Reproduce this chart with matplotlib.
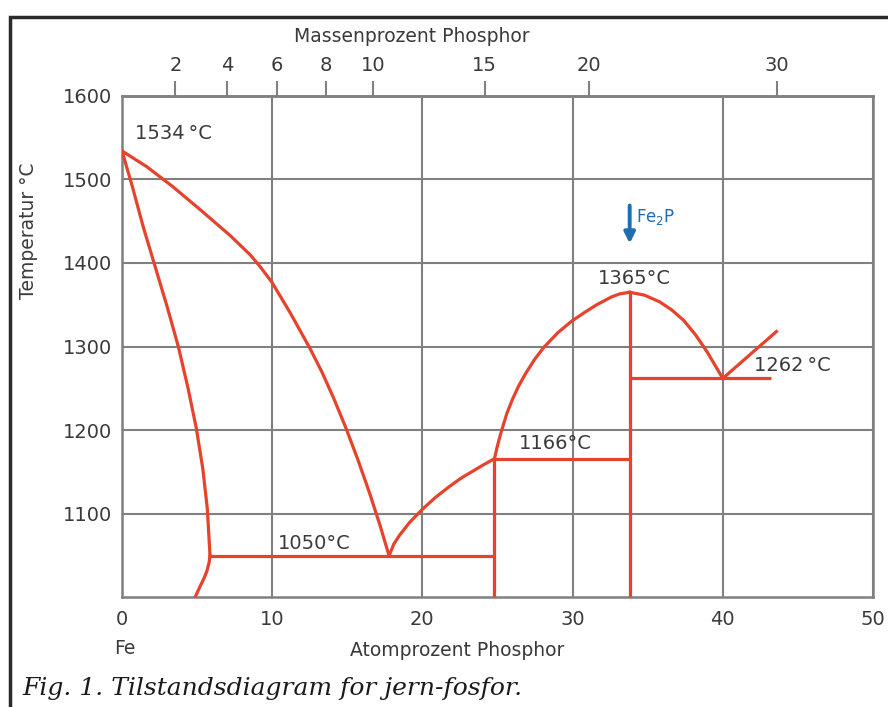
import numpy as np
import matplotlib.pyplot as plt
from matplotlib.patches import Rectangle

# Fasegrenser lest av diagrammet (atom-% P, °C)
solidus_x = [0, 0.68, 1.4, 2.2, 3.0, 3.75, 4.4, 4.95, 5.38, 5.68, 5.86]
solidus_t = [1534, 1492, 1444, 1396, 1348, 1300, 1250, 1202, 1154, 1106, 1050]
solvus_x = [5.86, 5.8, 5.66, 5.46, 5.19, 4.86]
solvus_t = [1050, 1042, 1032, 1023, 1013, 1000]
liq_fe_x = [0, 1.66, 3.33, 5.19, 7.19, 8.52, 9.18, 9.98, 11.18, 12.51, 13.3,
            14.1, 14.9, 15.7, 16.5, 17.2, 17.78]
liq_fe_t = [1534, 1515, 1492, 1464, 1433, 1410, 1396, 1377, 1341, 1298, 1270,
            1238, 1203, 1165, 1124, 1085, 1050]
liq_fe3p_x = [17.78, 18.1, 18.5, 19.16, 20.03, 20.89, 21.82, 22.6, 23.35, 24.1, 24.8]
liq_fe3p_t = [1050, 1064, 1075, 1090, 1106, 1120, 1133, 1143, 1151, 1159, 1166]
liq_fe2p_x = [24.8, 24.95, 25.15, 25.35, 25.62, 26.02, 26.41, 26.88, 27.48,
              28.08, 29.01, 29.94, 30.81, 31.6, 32.6, 33.13, 33.8]
liq_fe2p_t = [1166, 1178, 1192, 1204, 1220, 1238, 1253, 1268, 1285,
              1299, 1316.5, 1330.5, 1341, 1350, 1359.5, 1363, 1365]
liq_right_x = [33.8, 34.79, 35.80, 36.59, 37.39, 38.19, 38.98, 40.0]
liq_right_t = [1365, 1361.5, 1353.5, 1344, 1331.5, 1314, 1293, 1262]
liq_end_x = [40.0, 43.57]
liq_end_t = [1262, 1318]

# invariante linjer og forbindelser
inv_t = [1050, 1166, 1262]
inv_x0 = [5.86, 24.8, 33.8]
inv_x1 = [24.8, 33.8, 43.2]
comp_x = [24.8, 33.8]          # Fe3P, Fe2P
comp_top = [1166, 1365]

labels = ["1534\u2009°C", "1050°C", "1166°C", "1365°C", "1262\u2009°C"]
label_x = [0.86, 10.4, 26.4, 34.1, 42.1]
label_t = [1555, 1064, 1184, 1381, 1277]
label_ha = ["left", "left", "left", "center", "left"]

mass_ticks = [2, 4, 6, 8, 10, 15, 20, 30]
M_P, M_FE = 30.97, 55.85

T_MIN, T_MAX = 1000, 1600
red = "#e6432c"
grey = "#808080"
txt = "#3a3a3a"
blue = "#1f6bb4"


def at_to_wt(a):
    a = np.asarray(a, float)
    with np.errstate(divide="ignore", invalid="ignore"):
        return 100 * a * M_P / (a * M_P + (100 - a) * M_FE)


def wt_to_at(w):
    w = np.asarray(w, float)
    with np.errstate(divide="ignore", invalid="ignore"):
        return 100 * (w / M_P) / (w / M_P + (100 - w) / M_FE)


fig = plt.figure(figsize=(8.88, 7.07), dpi=100)
ax = fig.add_axes([0.1374, 0.1549, 0.8457, 0.7097])

kw = dict(color=red, lw=2.3, solid_joinstyle="round", zorder=3)
for xs, ts in [(solidus_x, solidus_t), (solvus_x, solvus_t), (liq_fe_x, liq_fe_t),
               (liq_fe3p_x, liq_fe3p_t), (liq_fe2p_x, liq_fe2p_t),
               (liq_right_x, liq_right_t), (liq_end_x, liq_end_t)]:
    ax.plot(xs, ts, **kw)
ax.hlines(inv_t, inv_x0, inv_x1, color=red, lw=2.3, zorder=3)
ax.vlines(comp_x, T_MIN, comp_top, color=red, lw=2.3, zorder=3)

for s, x, t, ha in zip(labels, label_x, label_t, label_ha):
    ax.text(x, t, s, fontsize=14, color=txt, ha=ha, va="center", zorder=4)

# Fe2P-pil
ax.annotate("", xy=(comp_x[1], 1420), xytext=(comp_x[1], 1472),
            arrowprops=dict(arrowstyle="-|>", color=blue, lw=2.8, mutation_scale=16))
ax.text(comp_x[1] + 0.4, 1449, r"Fe$_2$P", color=blue, fontsize=12, va="baseline", ha="left")

ax.set_xlim(0, 50)
ax.set_ylim(T_MIN, T_MAX)
ax.set_xticks(range(0, 51, 10))
ax.set_yticks(range(1100, 1601, 100))
ax.grid(True, color=grey, lw=1.5)
ax.set_axisbelow(True)
for sp in ax.spines.values():
    sp.set_color(grey)
    sp.set_linewidth(1.8)
ax.tick_params(axis="both", length=0, labelsize=14, labelcolor=txt)
ax.tick_params(axis="x", pad=9)
ax.tick_params(axis="y", pad=7)

ax.set_ylabel("Temperatur °C", fontsize=13.5, color=txt)
ax.yaxis.set_label_coords(-0.112, 0.73)
ax.set_xlabel("Atomprozent Phosphor", fontsize=13.5, color=txt)
ax.xaxis.set_label_coords(0.446, -0.087)
ax.text(0.2, -0.101, "Fe", transform=ax.get_xaxis_transform(), fontsize=13.5,
        color=txt, ha="center", va="center")

secax = ax.secondary_xaxis("top", functions=(at_to_wt, wt_to_at))
secax.set_xticks(mass_ticks)
secax.spines["top"].set_color(grey)
secax.spines["top"].set_linewidth(1.8)
secax.tick_params(axis="x", direction="out", length=11, width=1.5, color=grey,
                  pad=4, labelsize=14, labelcolor=txt)
fig.text(412 / 888, 1 - 37 / 707, "Massenprozent Phosphor", fontsize=13.5,
         color=txt, ha="center", va="center")

fig.text(22 / 888, 1 - 688 / 707, "Fig. 1. Tilstandsdiagram for jern-fosfor.",
         fontsize=18, style="italic", family="DejaVu Serif", color="#1a1a1a",
         ha="left", va="center")

fig.add_artist(Rectangle((10 / 888, -0.1), 1.5, 1 - 17 / 707 + 0.1,
                         transform=fig.transFigure, fill=False, lw=2.5, ec="#2a2a2a"))

fig.savefig("out.png", dpi=100)
